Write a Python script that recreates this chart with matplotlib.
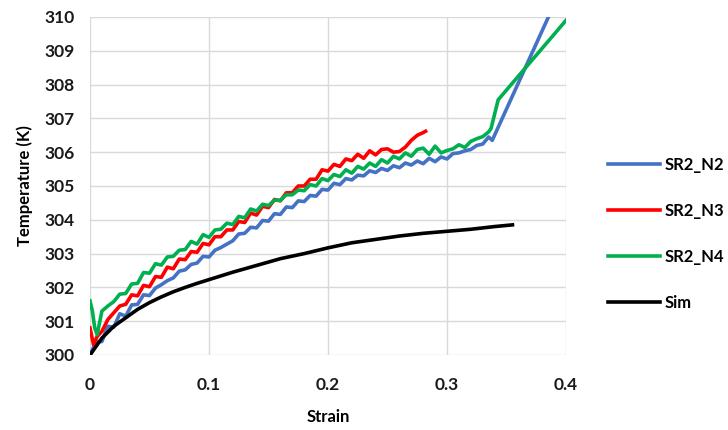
import numpy as np
import matplotlib.pyplot as plt

# SR2_N2 (blue)
n2_strain = [0.000, 0.005, 0.010, 0.015, 0.020, 0.025, 0.030, 0.035, 0.040, 0.045,
             0.050, 0.055, 0.060, 0.065, 0.070, 0.075, 0.080, 0.085, 0.090, 0.095,
             0.100, 0.105, 0.110, 0.115, 0.120, 0.125, 0.130, 0.135, 0.140, 0.145,
             0.150, 0.155, 0.160, 0.165, 0.170, 0.175, 0.180, 0.185, 0.190, 0.195,
             0.200, 0.205, 0.210, 0.215, 0.220, 0.225, 0.230, 0.235, 0.240, 0.245,
             0.250, 0.255, 0.260, 0.265, 0.270, 0.275, 0.280, 0.285, 0.290, 0.295,
             0.300, 0.305, 0.310, 0.315, 0.320, 0.325, 0.330, 0.335, 0.338, 0.386, 0.392]
n2_temp = [300.00, 300.38, 300.40, 300.85, 300.82, 301.22, 301.15, 301.48, 301.50, 301.78,
           301.76, 301.98, 302.08, 302.20, 302.28, 302.48, 302.52, 302.68, 302.72, 302.92,
           302.90, 303.10, 303.18, 303.28, 303.38, 303.58, 303.60, 303.78, 303.76, 303.98,
           303.96, 304.18, 304.16, 304.38, 304.36, 304.56, 304.54, 304.72, 304.70, 304.90,
           304.88, 305.08, 305.04, 305.22, 305.18, 305.32, 305.30, 305.45, 305.40, 305.52,
           305.46, 305.60, 305.54, 305.68, 305.62, 305.74, 305.66, 305.82, 305.72, 305.86,
           305.80, 305.96, 305.98, 306.04, 306.08, 306.20, 306.24, 306.45, 306.35, 310.06, 310.6]

# SR2_N3 (red)
n3_strain = [0.000, 0.003, 0.006, 0.010, 0.015, 0.020, 0.025, 0.030, 0.035, 0.040,
             0.045, 0.050, 0.055, 0.060, 0.065, 0.070, 0.075, 0.080, 0.085, 0.090,
             0.095, 0.100, 0.105, 0.110, 0.115, 0.120, 0.125, 0.130, 0.135, 0.140,
             0.145, 0.150, 0.155, 0.160, 0.165, 0.170, 0.175, 0.180, 0.185, 0.190,
             0.195, 0.200, 0.205, 0.210, 0.215, 0.220, 0.225, 0.230, 0.235, 0.240,
             0.245, 0.250, 0.255, 0.260, 0.265, 0.270, 0.275, 0.280, 0.282]
n3_temp = [300.80, 300.30, 300.55, 300.70, 301.05, 301.25, 301.45, 301.50, 301.78, 301.75,
           302.06, 302.02, 302.32, 302.30, 302.60, 302.55, 302.84, 302.82, 303.06, 303.04,
           303.30, 303.26, 303.50, 303.50, 303.70, 303.70, 303.95, 303.92, 304.20, 304.14,
           304.40, 304.36, 304.60, 304.56, 304.80, 304.80, 305.00, 305.00, 305.20, 305.20,
           305.48, 305.44, 305.64, 305.58, 305.80, 305.75, 305.94, 305.82, 306.04, 305.92,
           306.08, 306.10, 306.00, 306.02, 306.15, 306.35, 306.50, 306.58, 306.62]

# SR2_N4 (green)
n4_strain = [0.000, 0.002, 0.004, 0.006, 0.008, 0.010, 0.015, 0.020, 0.025, 0.030,
             0.035, 0.040, 0.045, 0.050, 0.055, 0.060, 0.065, 0.070, 0.075, 0.080,
             0.085, 0.090, 0.095, 0.100, 0.105, 0.110, 0.115, 0.120, 0.125, 0.130,
             0.135, 0.140, 0.145, 0.150, 0.155, 0.160, 0.165, 0.170, 0.175, 0.180,
             0.185, 0.190, 0.195, 0.200, 0.205, 0.210, 0.215, 0.220, 0.225, 0.230,
             0.235, 0.240, 0.245, 0.250, 0.255, 0.260, 0.265, 0.270, 0.275, 0.280,
             0.285, 0.290, 0.295, 0.300, 0.305, 0.310, 0.315, 0.320, 0.325, 0.330,
             0.335, 0.337, 0.343, 0.400]
n4_temp = [301.60, 301.30, 300.80, 300.60, 300.95, 301.30, 301.45, 301.58, 301.80, 301.82,
           302.10, 302.12, 302.44, 302.42, 302.70, 302.66, 302.90, 302.92, 303.10, 303.12,
           303.36, 303.28, 303.56, 303.48, 303.70, 303.72, 303.90, 303.86, 304.10, 304.06,
           304.32, 304.26, 304.46, 304.42, 304.58, 304.58, 304.74, 304.74, 304.88, 304.86,
           305.04, 305.00, 305.22, 305.16, 305.34, 305.28, 305.48, 305.38, 305.58, 305.50,
           305.68, 305.58, 305.78, 305.68, 305.88, 305.80, 305.98, 305.88, 306.08, 306.12,
           305.94, 306.18, 305.98, 306.05, 306.10, 306.22, 306.14, 306.32, 306.40, 306.46,
           306.60, 306.70, 307.55, 309.90]

# Sim (black)
sim_strain = [0.000, 0.005, 0.010, 0.020, 0.030, 0.040, 0.050, 0.060, 0.070, 0.080,
              0.090, 0.100, 0.120, 0.140, 0.160, 0.180, 0.200, 0.220, 0.240, 0.260,
              0.280, 0.300, 0.320, 0.340, 0.355]
sim_temp = [300.00, 300.25, 300.50, 300.85, 301.10, 301.35, 301.55, 301.72, 301.87, 302.00,
            302.12, 302.23, 302.45, 302.65, 302.85, 303.00, 303.17, 303.32, 303.42, 303.52,
            303.60, 303.66, 303.72, 303.80, 303.85]

plt.rcParams["font.family"] = ["Lato", "DejaVu Sans"]
plt.rcParams["font.weight"] = "bold"

fig = plt.figure(figsize=(7.28, 4.30), dpi=100)
ax = fig.add_axes([90 / 728, 1 - 355 / 430, 476 / 728, 338 / 430])

lw = 2.6
ax.plot(n2_strain, n2_temp, color="#4472c4", lw=lw, label="SR2_N2")
ax.plot(n3_strain, n3_temp, color="#ff0000", lw=lw, label="SR2_N3")
ax.plot(n4_strain, n4_temp, color="#00b050", lw=lw, label="SR2_N4")
ax.plot(sim_strain, sim_temp, color="#000000", lw=lw, label="Sim")

ax.set_xlim(0, 0.4)
ax.set_ylim(300, 310)
ax.set_xticks([0, 0.1, 0.2, 0.3, 0.4])
ax.set_xticklabels(["0", "0.1", "0.2", "0.3", "0.4"])
ax.set_yticks(range(300, 311))
ax.grid(True, color="#d9d9d9", lw=1)
ax.set_axisbelow(True)
for sp in ax.spines.values():
    sp.set_visible(False)
ax.tick_params(length=0, labelsize=12.5, colors="#1a1a1a")
ax.tick_params(axis="x", pad=16)
ax.tick_params(axis="y", pad=11)

ax.set_xlabel("Strain", fontsize=12, fontweight="bold", labelpad=11)
ax.set_ylabel("Temperature (K)", fontsize=12, fontweight="bold", labelpad=8)

fig.legend(loc="upper left", bbox_to_anchor=(608 / 728, 1 - 157 / 430), frameon=False,
           fontsize=12, handlelength=3.1, handletextpad=0.3, labelspacing=1.8,
           borderpad=0, borderaxespad=0)

fig.savefig("out.png", dpi=100)
